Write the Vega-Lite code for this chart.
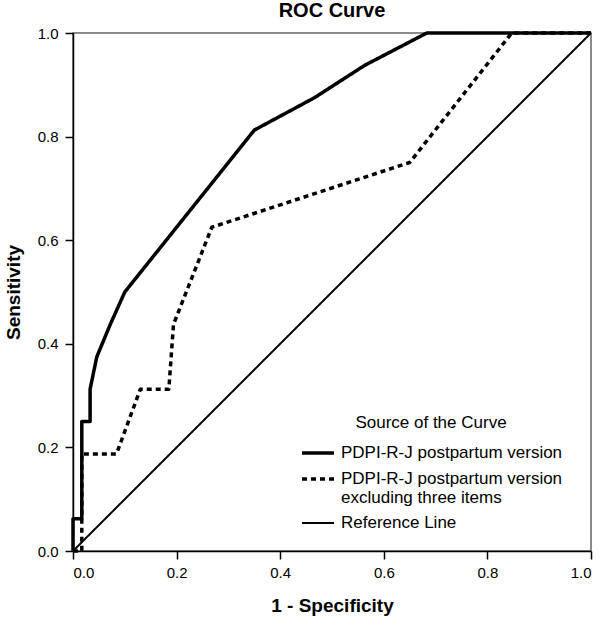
{
  "$schema": "https://vega.github.io/schema/vega-lite/v6.json",
  "width": 518,
  "height": 518,
  "autosize": {"type": "none"},
  "padding": {"left": 73, "top": 33, "right": 9, "bottom": 67},
  "background": "white",
  "title": {"text": "ROC Curve", "fontSize": 20, "fontWeight": "bold", "font": "Liberation Sans", "color": "black", "anchor": "middle", "offset": 5},
  "config": {
    "view": {"stroke": "#666", "strokeWidth": 1.5},
    "font": "Liberation Sans",
    "axis": {"domainColor": "black", "domainWidth": 1.5, "tickColor": "black", "tickWidth": 1.5, "tickSize": 8, "labelColor": "black", "labelFontSize": 15, "labelFont": "Liberation Sans", "titleFont": "Liberation Sans", "titleFontSize": 19, "titleFontWeight": "bold", "titleColor": "black", "grid": false}
  },
  "data": {"values": [
    {"s": "PDPI-R-J postpartum version", "i": 0, "x": 0, "y": 0},
    {"s": "PDPI-R-J postpartum version", "i": 1, "x": 0, "y": 0.0625},
    {"s": "PDPI-R-J postpartum version", "i": 2, "x": 0.017, "y": 0.0625},
    {"s": "PDPI-R-J postpartum version", "i": 3, "x": 0.017, "y": 0.25},
    {"s": "PDPI-R-J postpartum version", "i": 4, "x": 0.033, "y": 0.25},
    {"s": "PDPI-R-J postpartum version", "i": 5, "x": 0.033, "y": 0.3125},
    {"s": "PDPI-R-J postpartum version", "i": 6, "x": 0.046, "y": 0.375},
    {"s": "PDPI-R-J postpartum version", "i": 7, "x": 0.072, "y": 0.4375},
    {"s": "PDPI-R-J postpartum version", "i": 8, "x": 0.1, "y": 0.5},
    {"s": "PDPI-R-J postpartum version", "i": 9, "x": 0.35, "y": 0.8125},
    {"s": "PDPI-R-J postpartum version", "i": 10, "x": 0.466, "y": 0.875},
    {"s": "PDPI-R-J postpartum version", "i": 11, "x": 0.563, "y": 0.9375},
    {"s": "PDPI-R-J postpartum version", "i": 12, "x": 0.683, "y": 1},
    {"s": "PDPI-R-J postpartum version", "i": 13, "x": 1, "y": 1},
    {"s": "PDPI-R-J postpartum version excluding three items", "i": 0, "x": 0, "y": 0},
    {"s": "PDPI-R-J postpartum version excluding three items", "i": 1, "x": 0.017, "y": 0},
    {"s": "PDPI-R-J postpartum version excluding three items", "i": 2, "x": 0.017, "y": 0.1875},
    {"s": "PDPI-R-J postpartum version excluding three items", "i": 3, "x": 0.084, "y": 0.1875},
    {"s": "PDPI-R-J postpartum version excluding three items", "i": 4, "x": 0.13, "y": 0.3125},
    {"s": "PDPI-R-J postpartum version excluding three items", "i": 5, "x": 0.185, "y": 0.3125},
    {"s": "PDPI-R-J postpartum version excluding three items", "i": 6, "x": 0.194, "y": 0.4375},
    {"s": "PDPI-R-J postpartum version excluding three items", "i": 7, "x": 0.268, "y": 0.625},
    {"s": "PDPI-R-J postpartum version excluding three items", "i": 8, "x": 0.65, "y": 0.75},
    {"s": "PDPI-R-J postpartum version excluding three items", "i": 9, "x": 0.847, "y": 1},
    {"s": "PDPI-R-J postpartum version excluding three items", "i": 10, "x": 1, "y": 1},
    {"s": "Reference Line", "i": 0, "x": 0, "y": 0},
    {"s": "Reference Line", "i": 1, "x": 1, "y": 1}
  ]},
  "mark": {"type": "line", "color": "black", "clip": false, "strokeCap": "butt", "strokeJoin": "round"},
  "encoding": {
    "x": {"field": "x", "type": "quantitative", "scale": {"domain": [0, 1], "nice": false, "zero": false}, "axis": {"values": [0, 0.2, 0.4, 0.6, 0.8, 1.0], "format": ".1f", "title": "1 - Specificity", "labelPadding": 6, "titlePadding": 16}},
    "y": {"field": "y", "type": "quantitative", "scale": {"domain": [0, 1], "nice": false, "zero": false}, "axis": {"values": [0, 0.2, 0.4, 0.6, 0.8, 1.0], "format": ".1f", "title": "Sensitivity", "labelPadding": 7, "titlePadding": 14}},
    "order": {"field": "i", "type": "quantitative"},
    "strokeDash": {"field": "s", "type": "nominal", "scale": {"domain": ["PDPI-R-J postpartum version", "PDPI-R-J postpartum version excluding three items", "Reference Line"], "range": [[1, 0], [5, 4], [1, 0]]},
      "legend": {"title": "Source of the Curve", "orient": "none", "legendX": 227, "legendY": 382, "titleAnchor": "middle", "titleFontSize": 17, "titleFontWeight": "normal", "titleColor": "black", "titlePadding": 3, "labelFontSize": 17, "labelColor": "black", "labelLimit": 400, "symbolType": "stroke", "symbolSize": 1024, "symbolStrokeColor": "black", "labelOffset": 5, "rowPadding": -15,
        "labelExpr": "datum.label == 'PDPI-R-J postpartum version excluding three items' ? ['PDPI-R-J postpartum version', 'excluding three items'] : datum.label"}},
    "strokeWidth": {"field": "s", "type": "nominal", "scale": {"type": "ordinal", "domain": ["PDPI-R-J postpartum version", "PDPI-R-J postpartum version excluding three items", "Reference Line"], "range": [3.5, 3.5, 2]}}
  }
}
